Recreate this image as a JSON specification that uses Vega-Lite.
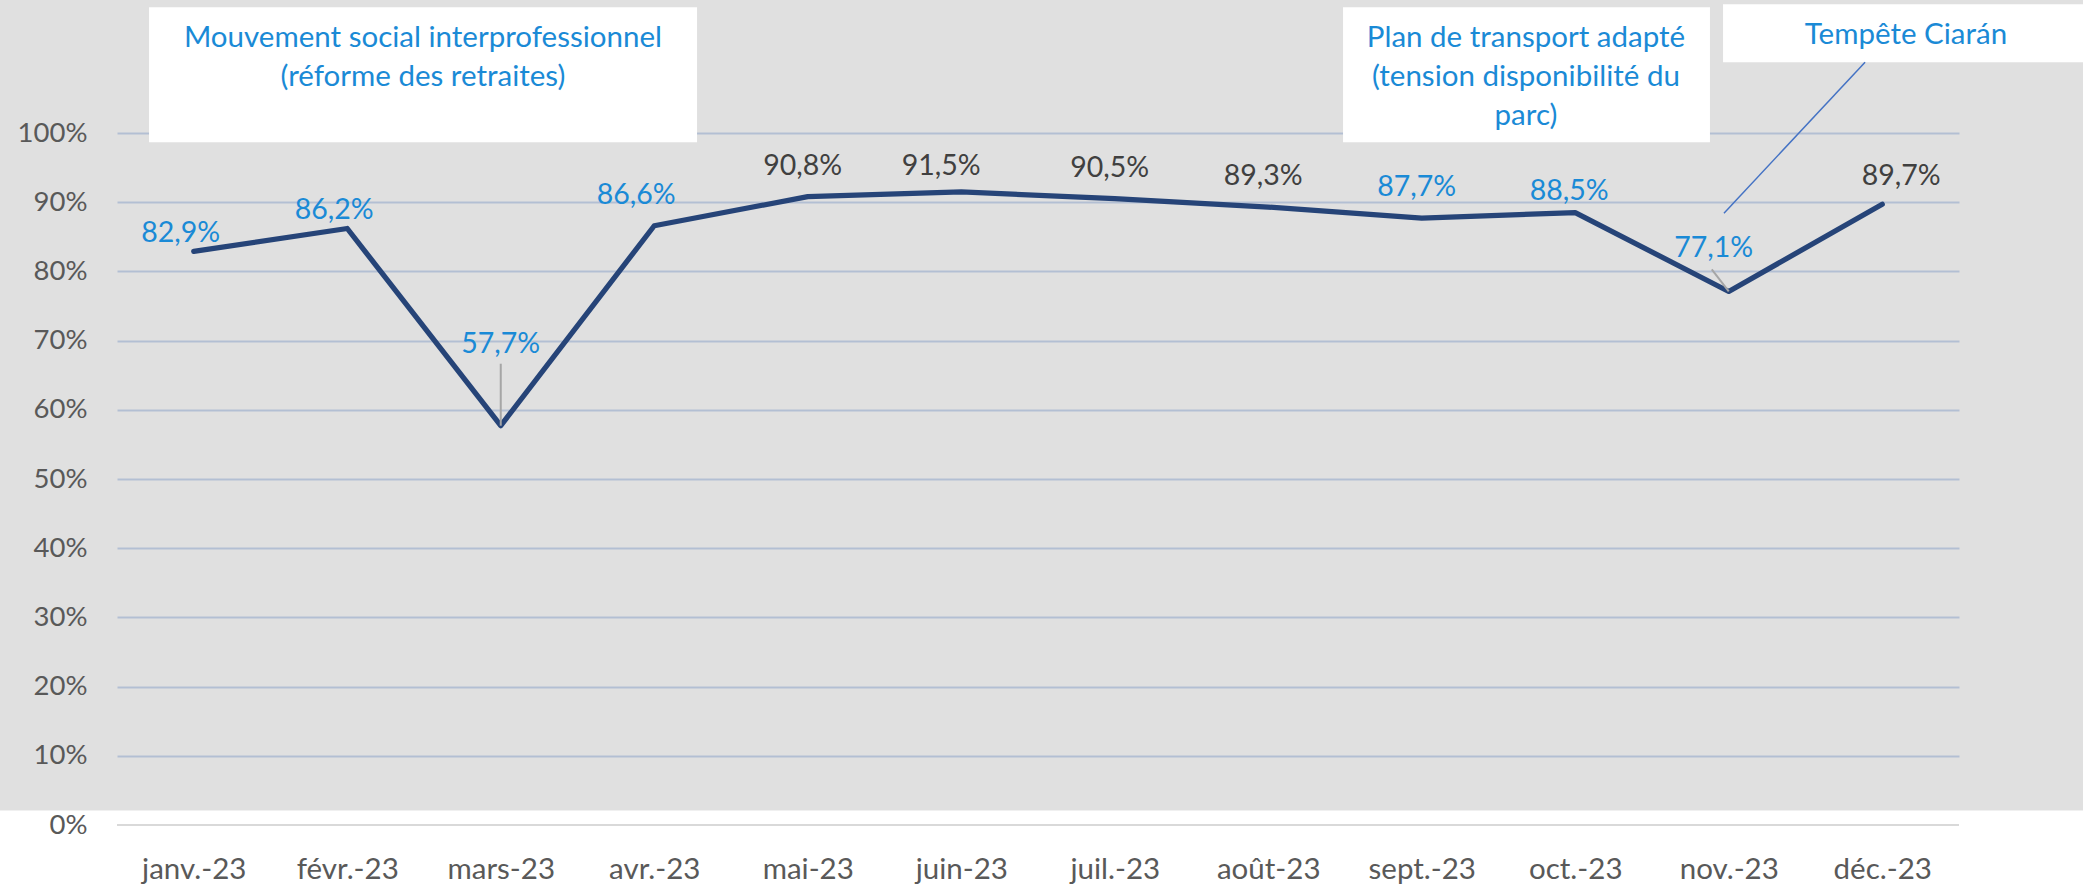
{
  "$schema": "https://vega.github.io/schema/vega-lite/v6.json",
  "width": 1842,
  "height": 692,
  "autosize": {"type": "none"},
  "padding": {"left": 117, "top": 133, "right": 124, "bottom": 59},
  "background": "#e0e0e0",
  "config": {
    "view": {"stroke": null},
    "font": "Lato",
    "locale": {"number": {"decimal": ",", "thousands": "\u00a0", "grouping": [3], "currency": ["", "\u00a0€"], "percent": "%"}}
  },
  "datasets": {
    "taux": [
      {"mois": "janv.-23", "valeur": 0.829, "perturbation": "oui"},
      {"mois": "févr.-23", "valeur": 0.862, "perturbation": "oui"},
      {"mois": "mars-23", "valeur": 0.577, "perturbation": "oui"},
      {"mois": "avr.-23", "valeur": 0.866, "perturbation": "oui"},
      {"mois": "mai-23", "valeur": 0.908, "perturbation": "non"},
      {"mois": "juin-23", "valeur": 0.915, "perturbation": "non"},
      {"mois": "juil.-23", "valeur": 0.905, "perturbation": "non"},
      {"mois": "août-23", "valeur": 0.893, "perturbation": "non"},
      {"mois": "sept.-23", "valeur": 0.877, "perturbation": "oui"},
      {"mois": "oct.-23", "valeur": 0.885, "perturbation": "oui"},
      {"mois": "nov.-23", "valeur": 0.771, "perturbation": "oui"},
      {"mois": "déc.-23", "valeur": 0.897, "perturbation": "non"}
    ],
    "notes": [
      {"id": "greve", "lignes": ["Mouvement social interprofessionnel", "(réforme des retraites)"]},
      {"id": "plan", "lignes": ["Plan de transport adapté", "(tension disponibilité du", "parc)"]},
      {"id": "tempete", "lignes": ["Tempête Ciarán"]}
    ],
    "axe": [{"repere": 0}]
  },
  "resolve": {"scale": {"x": "independent"}, "axis": {"y": "independent"}},
  "layer": [
    {
      "data": {"name": "axe"},
      "mark": {"type": "rect", "color": "#ffffff", "clip": false},
      "encoding": {
        "x": {"datum": -0.2, "type": "quantitative", "scale": {"domain": [0, 1]}, "axis": null},
        "x2": {"datum": 1.2},
        "y": {"datum": 0.021, "type": "quantitative", "scale": {"domain": [0, 1]},
          "axis": {"orient": "left", "values": [0.1, 0.2, 0.3, 0.4, 0.5, 0.6, 0.7, 0.8, 0.9, 1.0], "grid": true, "gridColor": "#b3bfd3", "gridWidth": 2, "labels": false, "ticks": false, "domain": false, "title": null, "zindex": 0}},
        "y2": {"datum": -0.2}
      }
    },
    {
      "data": {"name": "axe"},
      "mark": {"type": "rule", "color": "#d9d9d9", "strokeWidth": 2},
      "encoding": {
        "y": {"field": "repere", "type": "quantitative", "scale": {"domain": [0, 1]}, "axis": null}
      }
    },
    {
      "data": {"name": "taux"},
      "encoding": {
        "x": {"field": "mois", "type": "ordinal",
          "scale": {"type": "point", "padding": 0.5, "domain": ["janv.-23", "févr.-23", "mars-23", "avr.-23", "mai-23", "juin-23", "juil.-23", "août-23", "sept.-23", "oct.-23", "nov.-23", "déc.-23"]},
          "axis": {"orient": "bottom", "domain": false, "ticks": false, "tickSize": 0, "labelPadding": 53, "labelBaseline": "alphabetic", "labelAngle": 0, "labelFont": "Lato", "labelFontSize": 29.5, "labelColor": "#595959", "labelOverlap": false, "title": null, "zindex": 1}},
        "y": {"field": "valeur", "type": "quantitative", "scale": {"domain": [0, 1]},
          "axis": {"orient": "left", "values": [0, 0.1, 0.2, 0.3, 0.4, 0.5, 0.6, 0.7, 0.8, 0.9, 1.0], "format": ".0%", "grid": false, "ticks": false, "tickSize": 0, "domain": false, "labelPadding": 30, "labelFont": "Lato", "labelFontSize": 27.5, "labelColor": "#595959", "title": null, "zindex": 1}}
      },
      "layer": [
        {
          "mark": {"type": "line", "color": "#264478", "strokeWidth": 5.25, "strokeJoin": "round", "strokeCap": "round"}
        },
        {
          "transform": [{"filter": "datum.mois === 'mars-23'"}],
          "mark": {"type": "rule", "color": "#a6a6a6", "strokeWidth": 2, "y2Offset": -62},
          "encoding": {"y2": {"field": "valeur"}}
        },
        {
          "transform": [{"filter": "datum.mois === 'nov.-23'"}],
          "mark": {"type": "rule", "color": "#a6a6a6", "strokeWidth": 2, "x2Offset": -17, "y2Offset": -22},
          "encoding": {"x2": {"field": "mois"}, "y2": {"field": "valeur"}}
        },
        {
          "transform": [{"filter": {"field": "mois", "oneOf": ["janv.-23", "févr.-23"]}}],
          "mark": {"type": "text", "font": "Lato", "fontSize": 28.5, "baseline": "alphabetic", "align": "center", "dx": -13, "dy": -9},
          "encoding": {
            "text": {"field": "valeur", "type": "quantitative", "format": ".1%"},
            "color": {"field": "perturbation", "type": "nominal", "scale": {"domain": ["oui", "non"], "range": ["#1a8ad6", "#404040"]}, "legend": null}
          }
        },
        {
          "transform": [{"filter": {"field": "mois", "oneOf": ["avr.-23"]}}],
          "mark": {"type": "text", "font": "Lato", "fontSize": 28.5, "baseline": "alphabetic", "align": "center", "dx": -18, "dy": -22},
          "encoding": {
            "text": {"field": "valeur", "type": "quantitative", "format": ".1%"},
            "color": {"field": "perturbation", "type": "nominal", "scale": {"domain": ["oui", "non"], "range": ["#1a8ad6", "#404040"]}, "legend": null}
          }
        },
        {
          "transform": [{"filter": {"field": "mois", "oneOf": ["mai-23", "juil.-23", "août-23", "sept.-23"]}}],
          "mark": {"type": "text", "font": "Lato", "fontSize": 28.5, "baseline": "alphabetic", "align": "center", "dx": -5, "dy": -22},
          "encoding": {
            "text": {"field": "valeur", "type": "quantitative", "format": ".1%"},
            "color": {"field": "perturbation", "type": "nominal", "scale": {"domain": ["oui", "non"], "range": ["#1a8ad6", "#404040"]}, "legend": null}
          }
        },
        {
          "transform": [{"filter": {"field": "mois", "oneOf": ["juin-23"]}}],
          "mark": {"type": "text", "font": "Lato", "fontSize": 28.5, "baseline": "alphabetic", "align": "center", "dx": -20, "dy": -17},
          "encoding": {
            "text": {"field": "valeur", "type": "quantitative", "format": ".1%"},
            "color": {"field": "perturbation", "type": "nominal", "scale": {"domain": ["oui", "non"], "range": ["#1a8ad6", "#404040"]}, "legend": null}
          }
        },
        {
          "transform": [{"filter": {"field": "mois", "oneOf": ["oct.-23"]}}],
          "mark": {"type": "text", "font": "Lato", "fontSize": 28.5, "baseline": "alphabetic", "align": "center", "dx": -6, "dy": -13},
          "encoding": {
            "text": {"field": "valeur", "type": "quantitative", "format": ".1%"},
            "color": {"field": "perturbation", "type": "nominal", "scale": {"domain": ["oui", "non"], "range": ["#1a8ad6", "#404040"]}, "legend": null}
          }
        },
        {
          "transform": [{"filter": {"field": "mois", "oneOf": ["déc.-23"]}}],
          "mark": {"type": "text", "font": "Lato", "fontSize": 28.5, "baseline": "alphabetic", "align": "center", "dx": 19, "dy": -19},
          "encoding": {
            "text": {"field": "valeur", "type": "quantitative", "format": ".1%"},
            "color": {"field": "perturbation", "type": "nominal", "scale": {"domain": ["oui", "non"], "range": ["#1a8ad6", "#404040"]}, "legend": null}
          }
        },
        {
          "transform": [{"filter": {"field": "mois", "oneOf": ["mars-23"]}}],
          "mark": {"type": "text", "font": "Lato", "fontSize": 28.5, "baseline": "alphabetic", "align": "center", "dx": 0, "dy": -73},
          "encoding": {
            "text": {"field": "valeur", "type": "quantitative", "format": ".1%"},
            "color": {"field": "perturbation", "type": "nominal", "scale": {"domain": ["oui", "non"], "range": ["#1a8ad6", "#404040"]}, "legend": null}
          }
        },
        {
          "transform": [{"filter": {"field": "mois", "oneOf": ["nov.-23"]}}],
          "mark": {"type": "text", "font": "Lato", "fontSize": 28.5, "baseline": "alphabetic", "align": "center", "dx": -15, "dy": -34},
          "encoding": {
            "text": {"field": "valeur", "type": "quantitative", "format": ".1%"},
            "color": {"field": "perturbation", "type": "nominal", "scale": {"domain": ["oui", "non"], "range": ["#1a8ad6", "#404040"]}, "legend": null}
          }
        }
      ]
    },
    {
      "data": {"name": "notes"},
      "transform": [{"filter": "datum.id === 'greve'"}],
      "mark": {"type": "rect", "color": "#ffffff", "clip": false},
      "encoding": {
        "x": {"datum": 0.0174, "type": "quantitative", "scale": {"domain": [0, 1]}, "axis": null},
        "x2": {"datum": 0.3149},
        "y": {"datum": 1.1817, "type": "quantitative", "scale": {"domain": [0, 1]}, "axis": null},
        "y2": {"datum": 0.9867}
      }
    },
    {
      "data": {"name": "notes"},
      "transform": [{"filter": "datum.id === 'plan'"}],
      "mark": {"type": "rect", "color": "#ffffff", "clip": false},
      "encoding": {
        "x": {"datum": 0.6656, "type": "quantitative", "scale": {"domain": [0, 1]}, "axis": null},
        "x2": {"datum": 0.8648},
        "y": {"datum": 1.1817, "type": "quantitative", "scale": {"domain": [0, 1]}, "axis": null},
        "y2": {"datum": 0.9867}
      }
    },
    {
      "data": {"name": "notes"},
      "transform": [{"filter": "datum.id === 'tempete'"}],
      "mark": {"type": "rect", "color": "#ffffff", "clip": false},
      "encoding": {
        "x": {"datum": 0.8719, "type": "quantitative", "scale": {"domain": [0, 1]}, "axis": null},
        "x2": {"datum": 1.2},
        "y": {"datum": 1.1861, "type": "quantitative", "scale": {"domain": [0, 1]}, "axis": null},
        "y2": {"datum": 1.1023}
      }
    },
    {
      "data": {"name": "notes"},
      "transform": [{"filter": "datum.id === 'tempete'"}],
      "mark": {"type": "rule", "color": "#4472c4", "strokeWidth": 1.5},
      "encoding": {
        "x": {"datum": 0.8724, "type": "quantitative", "scale": {"domain": [0, 1]}, "axis": null},
        "x2": {"datum": 0.949},
        "y": {"datum": 0.8841, "type": "quantitative", "scale": {"domain": [0, 1]}, "axis": null},
        "y2": {"datum": 1.1023}
      }
    },
    {
      "data": {"name": "notes"},
      "transform": [{"filter": "datum.id === 'greve'"}],
      "mark": {"type": "text", "font": "Lato", "fontSize": 29.5, "color": "#1a8ad6", "baseline": "alphabetic", "align": "center", "lineHeight": 39},
      "encoding": {
        "x": {"datum": 0.1661, "type": "quantitative", "scale": {"domain": [0, 1]}, "axis": null},
        "y": {"datum": 1.1247, "type": "quantitative", "scale": {"domain": [0, 1]}, "axis": null},
        "text": {"field": "lignes"}
      }
    },
    {
      "data": {"name": "notes"},
      "transform": [{"filter": "datum.id === 'plan'"}],
      "mark": {"type": "text", "font": "Lato", "fontSize": 29.5, "color": "#1a8ad6", "baseline": "alphabetic", "align": "center", "lineHeight": 39},
      "encoding": {
        "x": {"datum": 0.7649, "type": "quantitative", "scale": {"domain": [0, 1]}, "axis": null},
        "y": {"datum": 1.1247, "type": "quantitative", "scale": {"domain": [0, 1]}, "axis": null},
        "text": {"field": "lignes"}
      }
    },
    {
      "data": {"name": "notes"},
      "transform": [{"filter": "datum.id === 'tempete'"}],
      "mark": {"type": "text", "font": "Lato", "fontSize": 29.5, "color": "#1a8ad6", "baseline": "alphabetic", "align": "center", "lineHeight": 39},
      "encoding": {
        "x": {"datum": 0.9712, "type": "quantitative", "scale": {"domain": [0, 1]}, "axis": null},
        "y": {"datum": 1.1283, "type": "quantitative", "scale": {"domain": [0, 1]}, "axis": null},
        "text": {"field": "lignes"}
      }
    }
  ]
}
